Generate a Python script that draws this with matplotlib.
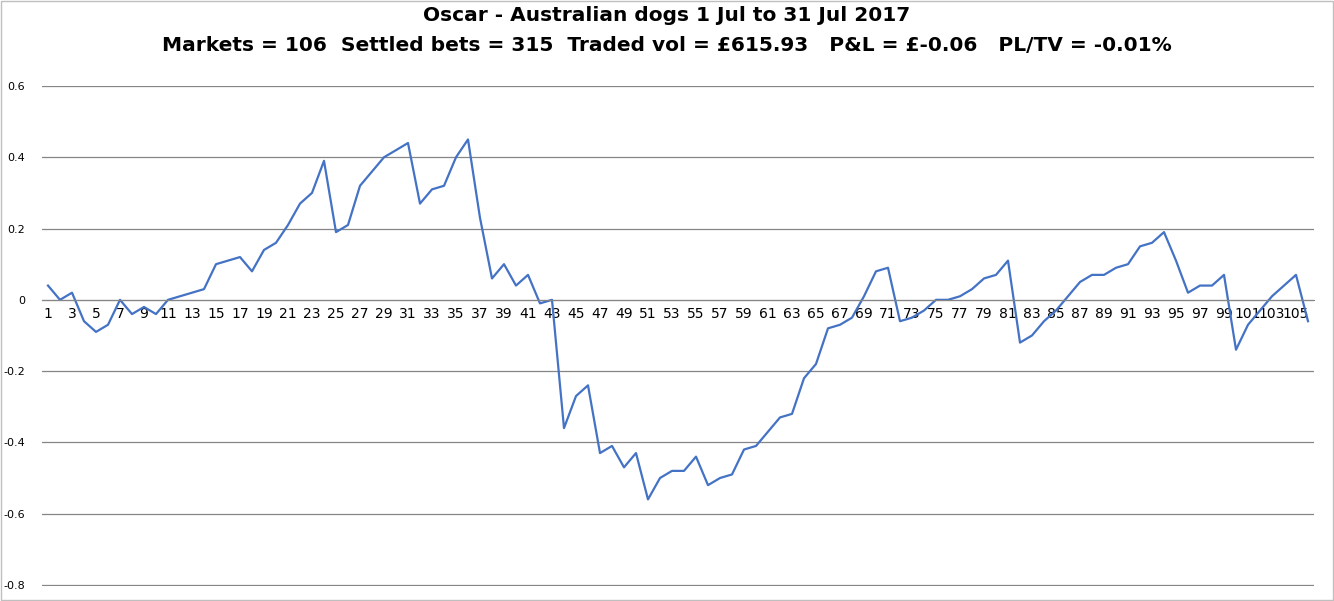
import matplotlib
matplotlib.use("Agg")
import matplotlib.pyplot as plt
import numpy as np

markets = list(range(1, 107))
pl = [0.04, 0.00, 0.02, -0.06, -0.09, -0.07, 0.00, -0.04, -0.02, -0.04,
      0.00, 0.01, 0.02, 0.03, 0.10, 0.11, 0.12, 0.08, 0.14, 0.16,
      0.21, 0.27, 0.30, 0.39, 0.19, 0.21, 0.32, 0.36, 0.40, 0.42,
      0.44, 0.27, 0.31, 0.32, 0.40, 0.45, 0.23, 0.06, 0.10, 0.04,
      0.07, -0.01, 0.00, -0.36, -0.27, -0.24, -0.43, -0.41, -0.47, -0.43,
      -0.56, -0.50, -0.48, -0.48, -0.44, -0.52, -0.50, -0.49, -0.42, -0.41,
      -0.37, -0.33, -0.32, -0.22, -0.18, -0.08, -0.07, -0.05, 0.01, 0.08,
      0.09, -0.06, -0.05, -0.03, 0.00, 0.00, 0.01, 0.03, 0.06, 0.07,
      0.11, -0.12, -0.10, -0.06, -0.03, 0.01, 0.05, 0.07, 0.07, 0.09,
      0.10, 0.15, 0.16, 0.19, 0.11, 0.02, 0.04, 0.04, 0.07, -0.14,
      -0.07, -0.03, 0.01, 0.04, 0.07, -0.06]
y_ticks = [0.6, 0.4, 0.2, 0, -0.2, -0.4, -0.6, -0.8]
title = ("Oscar - Australian dogs 1 Jul to 31 Jul 2017\n"
         "Markets = 106  Settled bets = 315  Traded vol = £615.93   P&L = £-0.06   PL/TV = -0.01%")

fig = plt.figure(figsize=(13.34, 6.01), dpi=100)
ax = fig.add_axes([42/1334, 15/601, 1272/1334, 500/601])
ax.plot(markets, pl, color="#4472C4", lw=1.6)
ax.set_xlim(0.5, 106.5)
ax.set_ylim(-0.803, 0.6)
ax.set_yticks(y_ticks)
ax.set_yticklabels([str(t) for t in y_ticks], fontsize=8)
ax.set_xticks(markets[::2])
ax.set_xticklabels([str(m) for m in markets[::2]], fontsize=8)
ax.grid(axis="y", color="#868686", lw=0.9)
ax.set_axisbelow(True)
for s in ["top", "left", "right"]:
    ax.spines[s].set_visible(False)
ax.spines["bottom"].set_position(("data", 0))
ax.spines["bottom"].set_color("#868686")
ax.tick_params(length=0, pad=5)
ax.tick_params(axis="y", pad=12)
fig.text(0.5, 0.99, title, ha="center", va="top", fontsize=14.5,
         fontweight="bold", linespacing=1.75)
fig.patches.append(plt.Rectangle((0.001, 0.001), 0.998, 0.997, transform=fig.transFigure,
                                 fill=False, ec="#BFBFBF", lw=1))
fig.savefig("out.png", dpi=100)
